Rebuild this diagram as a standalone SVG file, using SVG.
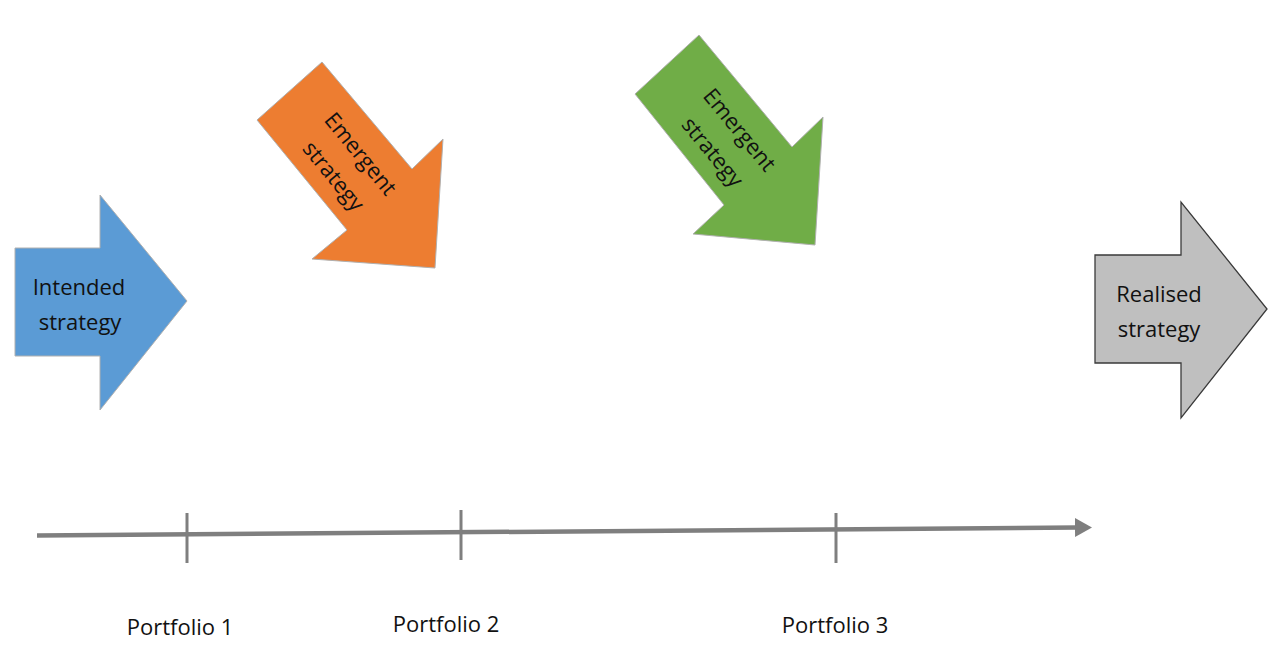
<svg xmlns="http://www.w3.org/2000/svg" width="1283" height="654" viewBox="0 0 1283 654">
  <style>
    .lbl { font-family: "Open Sans", "Liberation Sans", sans-serif; font-size: 22px; fill: #111111; text-anchor: middle; }
    .axis { stroke: #7f7f7f; fill: none; }
    .tick { stroke: #7f7f7f; stroke-width: 3; }
    .soft { stroke: #b0b0b0; stroke-width: 1; stroke-linejoin: miter; }
  </style>
  <defs>
    <marker id="head" markerUnits="userSpaceOnUse" markerWidth="18" markerHeight="20" refX="2" refY="9.5" orient="auto">
      <polygon points="0,0 17,9.5 0,19" fill="#7f7f7f"/>
    </marker>
  </defs>
  <rect width="1283" height="654" fill="#ffffff"/>

  <g id="intended">
    <polygon class="soft" fill="#5b9bd5" points="15,248 100,248 100,195 187,301 100,410 100,356 15,356"/>
    <text class="lbl"><tspan x="79" y="295">Intended</tspan><tspan x="80" y="330">strategy</tspan></text>
  </g>

  <g id="emergent1">
    <polygon class="soft" fill="#ed7d31" points="257,120 322,62 412,169 443,139 435,268 312,259 347,230"/>
    <text class="lbl" transform="translate(347,165) rotate(50.6)"><tspan x="0" y="-10">Emergent</tspan><tspan x="0" y="25">strategy</tspan></text>
  </g>

  <g id="emergent2">
    <polygon class="soft" fill="#70ad47" points="635,94 699,35 792,147 823,117 815,245 693,234 724,205"/>
    <text class="lbl" transform="translate(726,141) rotate(50.5)"><tspan x="0" y="-10">Emergent</tspan><tspan x="0" y="25">strategy</tspan></text>
  </g>

  <g id="realised">
    <polygon fill="#bfbfbf" stroke="#3a3a3a" stroke-width="1.3" points="1095,255 1181,255 1181,202 1267,309 1181,418 1181,363 1095,363"/>
    <text class="lbl"><tspan x="1159" y="302">Realised</tspan><tspan x="1159" y="337">strategy</tspan></text>
  </g>

  <g id="connectors">
    <line class="axis" x1="37" y1="535.5" x2="1077" y2="527.5" stroke-width="4.5" marker-end="url(#head)"/>
    <line class="tick" x1="187" y1="513" x2="187" y2="563"/>
    <line class="tick" x1="461" y1="510" x2="461" y2="560"/>
    <line class="tick" x1="836" y1="513" x2="836" y2="563"/>
  </g>

  <g id="labels">
    <text class="lbl" x="180" y="635">Portfolio 1</text>
    <text class="lbl" x="446" y="632">Portfolio 2</text>
    <text class="lbl" x="835" y="633">Portfolio 3</text>
  </g>
</svg>
